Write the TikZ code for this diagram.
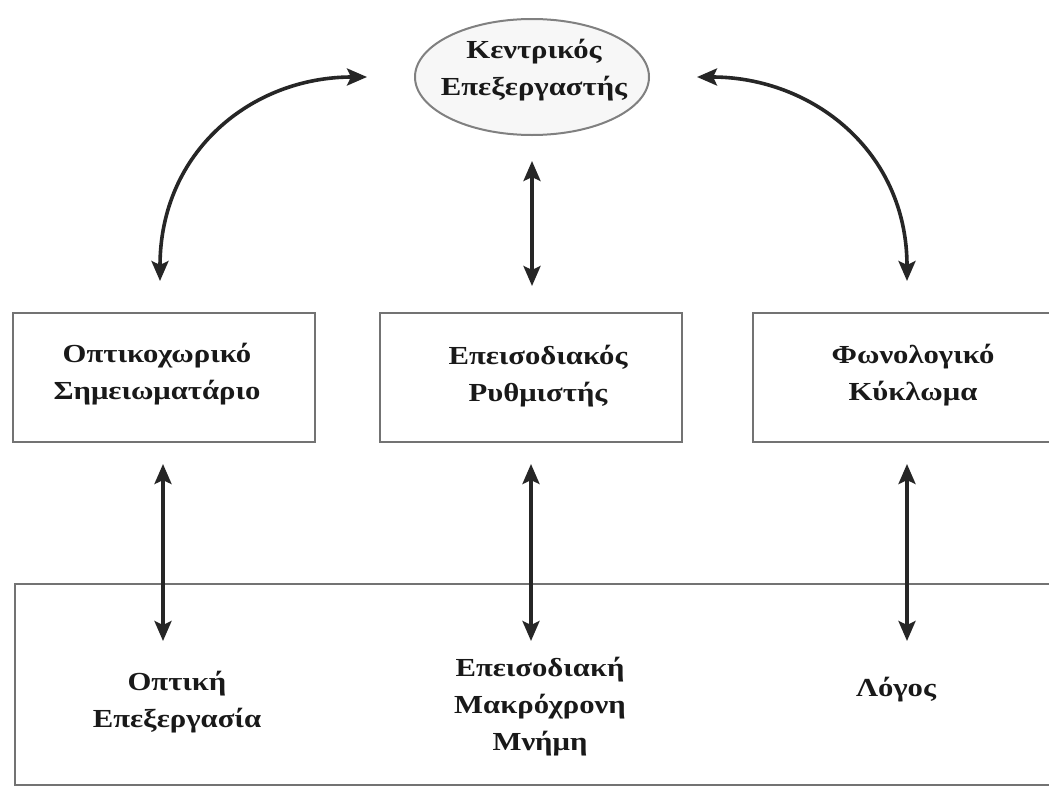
\documentclass[tikz,border=0pt]{standalone}
\usepackage{fontspec}
\setmainfont{Liberation Serif}
\newfontfamily\grwide[FakeStretch=1.18]{Liberation Serif}
\usetikzlibrary{arrows.meta,shapes.geometric}
\begin{document}
\begin{tikzpicture}[x=1pt,y=-1pt,
  boxst/.style={draw=black!55,line width=2pt,fill=white,minimum height=129pt,inner sep=0pt},
  ellst/.style={ellipse,draw=black!50,line width=2pt,fill=black!3,minimum width=234pt,minimum height=116pt,inner sep=0pt},
  txt/.style={font=\grwide\fontsize{26}{37}\selectfont\bfseries,align=center,text=black!90,inner sep=0pt},
  dbl/.style={line width=3.6pt,draw=black!85,{Stealth[length=20pt,width=17pt,inset=4pt]}-{Stealth[length=20pt,width=17pt,inset=4pt]}}
]
\useasboundingbox (0,0) rectangle (1049,787);
\clip (0,0) rectangle (1049,787);
\fill[white] (0,0) rectangle (1049,787);
% bottom long-term box
\node[draw=black!55,line width=2pt,minimum width=1060pt,minimum height=201pt,anchor=north west,inner sep=0pt] (ltm) at (14,583) {};
% central executive
\node[ellst] (cpu) at (532,77) {};
\node[txt] (cput) at (534,70) {Κεντρικός\\Επεξεργαστής};
% boxes
\node[boxst,minimum width=302pt] (vs) at (164,377.5) {};
\node[boxst,minimum width=302pt] (eb) at (531,377.5) {};
\node[boxst,minimum width=320pt] (pl) at (913,377.5) {};
\node[txt] (vst) at (157,374) {Οπτικοχωρικό\\Σημειωματάριο};
\node[txt] (ebt) at (538,376) {Επεισοδιακός\\Ρυθμιστής};
\node[txt] (plt) at (913,375) {Φωνολογικό\\Κύκλωμα};
% bottom texts
\node[txt] (vis) at (177,702) {Οπτική\\Επεξεργασία};
\node[txt] (epi) at (540,707) {Επεισοδιακή\\Μακρόχρονη\\Μνήμη};
\node[txt] (lang) at (896,690) {Λόγος};
% arrows
\draw[dbl] ([xshift=-4pt,yshift=31pt]vs.north) .. controls +(0,-130) and +(-115,0) .. ([xshift=-47pt]cpu.west);
\draw[dbl] ([xshift=-6pt,yshift=31pt]pl.north) .. controls +(0,-130) and +(115,0) .. ([xshift=47pt]cpu.east);
\draw[dbl,shorten <=25pt,shorten >=26pt] (cpu.south) -- (cpu.south |- eb.north);
\draw[dbl,shorten <=21pt] ([xshift=-1pt]vs.south) -- ++(0,198);
\draw[dbl,shorten <=21pt] (eb.south) -- ++(0,198);
\draw[dbl,shorten <=21pt] ([xshift=-6pt]pl.south) -- ++(0,198);
\end{tikzpicture}
\end{document}
